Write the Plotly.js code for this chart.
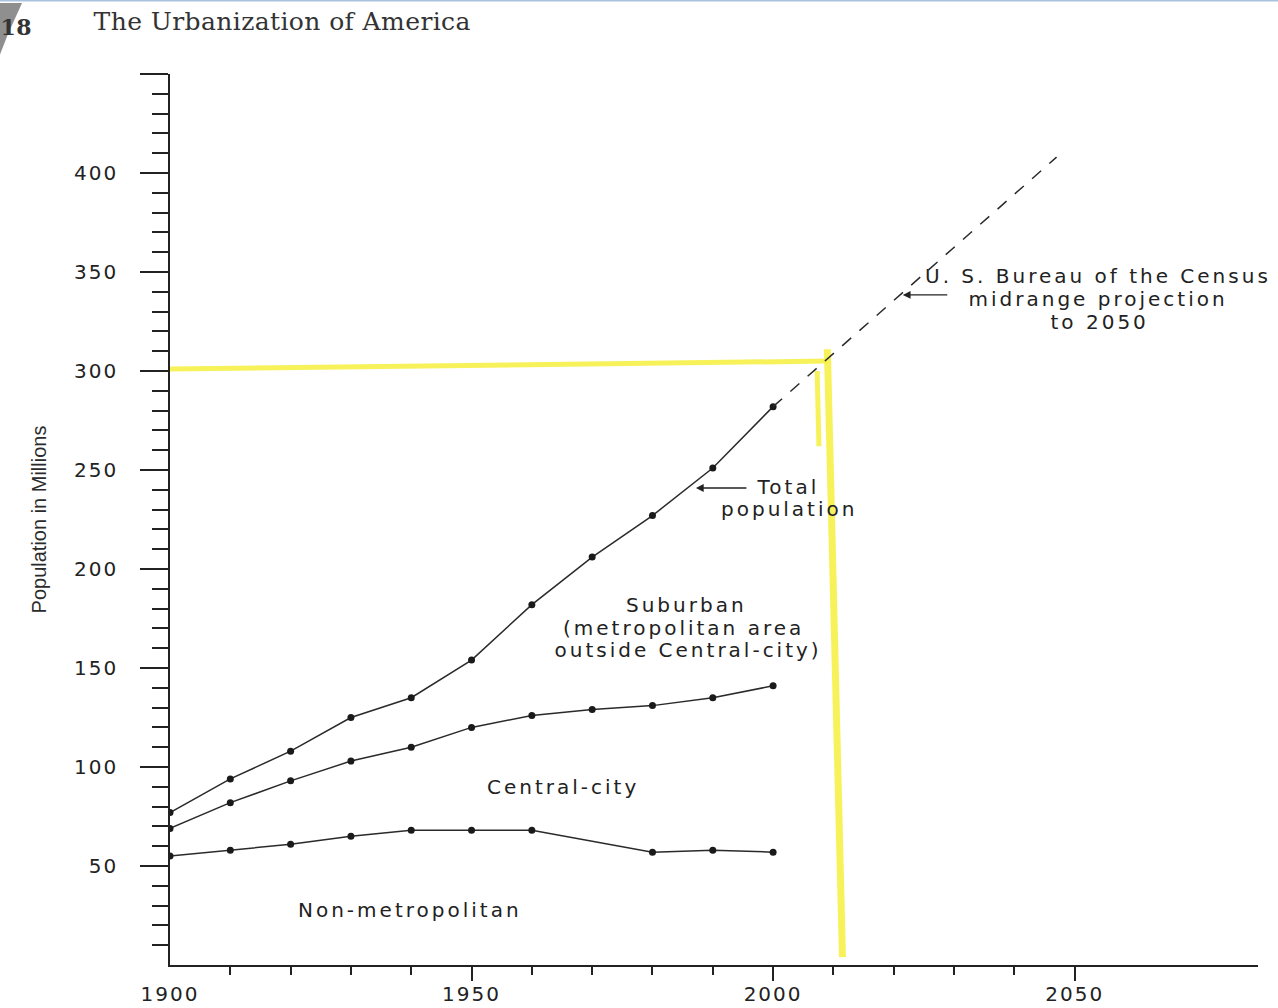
<!DOCTYPE html>
<html>
<head>
<meta charset="utf-8">
<script src="https://cdn.plot.ly/plotly-3.0.1.min.js"></script>
<style>
  html, body { margin: 0; padding: 0; background: #ffffff; }
  #chart { width: 1278px; height: 1008px; }
  .xtick text, .ytick text { letter-spacing: 2px; }
  .annotation text { letter-spacing: 3px; }
  .annotation[data-index="0"] text, .annotation[data-index="1"] text { letter-spacing: 0.4px; }
</style>
</head>
<body>
<div id="chart"></div>
<script>
// ---- data (population in millions) ----
const years = [1900, 1910, 1920, 1930, 1940, 1950, 1960, 1970, 1980, 1990, 2000];
const totalPopulation = [77, 94, 108, 125, 135, 154, 182, 206, 227, 251, 282];
// top of the central-city band (non-metropolitan + central-city)
const centralCityTop = [69, 82, 93, 103, 110, 120, 126, 129, 131, 135, 141];
const nonMetroYears = [1900, 1910, 1920, 1930, 1940, 1950, 1960, 1980, 1990, 2000];
const nonMetropolitan = [55, 58, 61, 65, 68, 68, 68, 57, 58, 57];
const projectionYears = [2000, 2047];
const projectionValues = [282, 408];

// hand-drawn yellow highlighter marks on the scanned page
const highlightHYears = [1900, 2009];
const highlightHValues = [301, 305];
const highlightVYears = [2009, 2011.5];
const highlightVValues = [311, 4];
const highlightStrokeYears = [2007.3, 2007.6];
const highlightStrokeValues = [300, 262];

// ticks
const xLabelYears = [1900, 1950, 2000, 2050];
const xLabels = ['1900', '1950', '2000', '2050'];
const xMajorTicks = [1950, 2000, 2050];
const xMinorTicks = [1910, 1920, 1930, 1940, 1960, 1970, 1980, 1990, 2010, 2020, 2030, 2040];
const yMajorTicks = [50, 100, 150, 200, 250, 300, 350, 400, 450];
const yMajorLabels = ['50', '100', '150', '200', '250', '300', '350', '400', ''];
const yMinorTicks = [10, 20, 30, 40, 60, 70, 80, 90, 110, 120, 130, 140, 160, 170, 180, 190,
                     210, 220, 230, 240, 260, 270, 280, 290, 310, 320, 330, 340, 360, 370, 380, 390,
                     410, 420, 430, 440];

const ink = '#222222';
const yellow = 'rgba(246,240,60,0.85)';
const labelFont = { family: 'DejaVu Sans', size: 20, color: ink };

const traces = [
  { x: highlightHYears, y: highlightHValues, xaxis: 'x', yaxis: 'y', mode: 'lines',
    line: { color: yellow, width: 5 }, hoverinfo: 'skip' },
  { x: highlightVYears, y: highlightVValues, xaxis: 'x', yaxis: 'y', mode: 'lines',
    line: { color: yellow, width: 7 }, hoverinfo: 'skip' },
  { x: highlightStrokeYears, y: highlightStrokeValues, xaxis: 'x', yaxis: 'y', mode: 'lines',
    line: { color: yellow, width: 5 }, hoverinfo: 'skip' },
  { name: 'Total population', x: years, y: totalPopulation, xaxis: 'x2', yaxis: 'y',
    mode: 'lines+markers', line: { color: '#2a2a2a', width: 1.5 },
    marker: { color: '#1a1a1a', size: 7 } },
  { name: 'Central-city (upper bound)', x: years, y: centralCityTop, xaxis: 'x2', yaxis: 'y',
    mode: 'lines+markers', line: { color: '#2a2a2a', width: 1.5 },
    marker: { color: '#1a1a1a', size: 7 } },
  { name: 'Non-metropolitan', x: nonMetroYears, y: nonMetropolitan, xaxis: 'x2', yaxis: 'y',
    mode: 'lines+markers', line: { color: '#2a2a2a', width: 1.5 },
    marker: { color: '#1a1a1a', size: 7 } },
  { name: 'Census projection', x: projectionYears, y: projectionValues, xaxis: 'x2', yaxis: 'y',
    mode: 'lines', line: { color: '#2a2a2a', width: 1.5, dash: '12px,11px' } }
];

const xRange = [1900, 2080.4];

function label(x, y, text) {
  return { xref: 'x', yref: 'y', x: x, y: y, xanchor: 'center', yanchor: 'middle', align: 'center',
           text: text, showarrow: false, font: labelFont };
}

const layout = {
  width: 1278, height: 1008,
  margin: { l: 170, r: 20, t: 74, b: 43 },
  paper_bgcolor: '#ffffff', plot_bgcolor: '#ffffff',
  showlegend: false,
  font: { family: 'DejaVu Sans', color: ink },
  xaxis: {
    range: xRange, showgrid: false, zeroline: false,
    showline: true, linecolor: ink, linewidth: 1.6,
    tickmode: 'array', tickvals: xLabelYears, ticktext: xLabels,
    ticks: 'outside', ticklen: 10, tickwidth: 1.5, tickcolor: 'rgba(0,0,0,0)',
    tickfont: { family: 'DejaVu Sans', size: 20, color: ink },
    minor: { tickmode: 'array', tickvals: xMinorTicks, ticks: 'outside', ticklen: 8,
             tickwidth: 1.5, tickcolor: ink, showgrid: false }
  },
  xaxis2: {
    overlaying: 'x', anchor: 'y', range: xRange,
    showgrid: false, zeroline: false, showline: false,
    tickmode: 'array', tickvals: xMajorTicks, showticklabels: false,
    ticks: 'outside', ticklen: 15, tickwidth: 1.5, tickcolor: ink
  },
  yaxis: {
    range: [0, 450], showgrid: false, zeroline: false,
    showline: true, linecolor: ink, linewidth: 1.6,
    tickmode: 'array', tickvals: yMajorTicks, ticktext: yMajorLabels,
    ticks: 'outside', ticklen: 28, tickwidth: 1.5, tickcolor: ink,
    ticklabelstandoff: 18,
    tickfont: { family: 'DejaVu Sans', size: 20, color: ink },
    minor: { tickmode: 'array', tickvals: yMinorTicks, ticks: 'outside', ticklen: 16,
             tickwidth: 1.5, tickcolor: ink, showgrid: false },
    title: { text: 'Population in Millions', standoff: 22,
             font: { family: 'Liberation Sans', size: 20, color: '#2b2b2b' } }
  },
  shapes: [
    { type: 'rect', xref: 'paper', yref: 'paper', x0: -0.2, x1: 1.02, y0: 1.0815, y1: 1.0845,
      line: { width: 0 }, fillcolor: '#a9c2de' },
    { type: 'path', xref: 'paper', yref: 'paper',
      path: 'M -0.15625,1.0797 L -0.1360,1.0797 L -0.1489,1.0450 L -0.15625,1.0220 Z',
      line: { width: 0 }, fillcolor: '#444444', opacity: 0.6 }
  ],
  annotations: [
    { xref: 'paper', yref: 'paper', x: -0.0671, y: 1.0584, xanchor: 'left', yanchor: 'middle',
      text: 'The Urbanization of America', showarrow: false,
      font: { family: 'DejaVu Serif', size: 25, color: '#333333' } },
    { xref: 'paper', yref: 'paper', x: -0.1250, y: 1.0528, xanchor: 'right', yanchor: 'middle',
      text: '18', showarrow: false,
      font: { family: 'DejaVu Serif', size: 22, color: '#333333', weight: 'bold' } },
    label(2053.9, 348.0, 'U. S. Bureau of the Census'),
    label(2053.9, 336.4, 'midrange projection'),
    label(2054.1, 324.7, 'to 2050'),
    label(2002.4, 241.4, 'Total'),
    label(2002.6, 230.3, 'population'),
    label(1985.6, 181.8, 'Suburban'),
    label(1985.1, 170.2, '(metropolitan area'),
    label(1985.9, 159.1, 'outside Central-city)'),
    label(1965.2, 89.9, 'Central-city'),
    label(1939.8, 27.8, 'Non-metropolitan'),
    { xref: 'x', yref: 'y', x: 1987.2, y: 240.9, text: '', showarrow: true, ax: 52, ay: 0,
      arrowhead: 2, arrowsize: 1.2, arrowwidth: 1.3, arrowcolor: ink, standoff: 0 },
    { xref: 'x', yref: 'y', x: 2021.5, y: 338.4, text: '', showarrow: true, ax: 46, ay: 0,
      arrowhead: 2, arrowsize: 1.2, arrowwidth: 1.3, arrowcolor: ink, standoff: 0 }
  ]
};

Plotly.newPlot('chart', traces, layout, { displayModeBar: false, responsive: false });
</script>
</body>
</html>
